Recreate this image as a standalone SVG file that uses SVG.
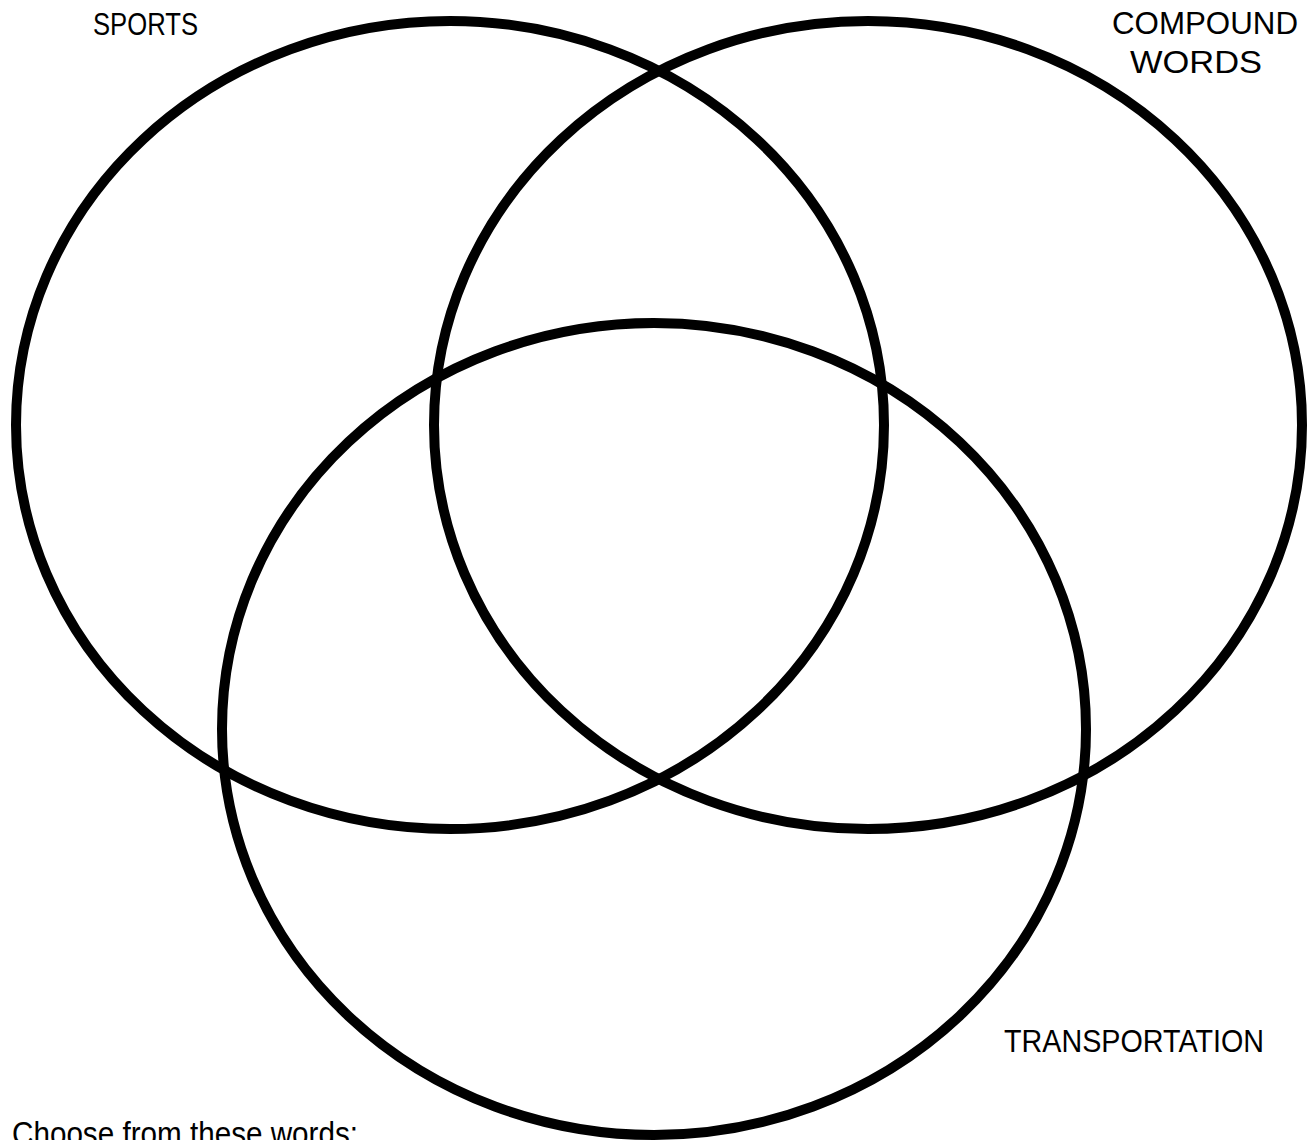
<svg xmlns="http://www.w3.org/2000/svg" width="1311" height="1140" viewBox="0 0 1311 1140">
<style>
.set{fill:none;stroke:#000;stroke-width:10}
.lbl{font-family:"Liberation Sans",Arial,sans-serif;font-size:31px;fill:#000}
</style>
<rect width="1311" height="1140" fill="#fff"/>
<g id="connectors"></g>
<g id="sports">
<ellipse class="set" cx="450" cy="425" rx="434" ry="404"/>
<text class="lbl" x="93" y="35" textLength="105" lengthAdjust="spacingAndGlyphs">SPORTS</text>
</g>
<g id="compound-words">
<ellipse class="set" cx="868" cy="425" rx="434" ry="404"/>
<text class="lbl" x="1112" y="34" textLength="186" lengthAdjust="spacingAndGlyphs">COMPOUND</text>
<text class="lbl" x="1130" y="73" textLength="132" lengthAdjust="spacingAndGlyphs">WORDS</text>
</g>
<g id="transportation">
<ellipse class="set" cx="654" cy="729" rx="432" ry="406"/>
<text class="lbl" x="1004" y="1052" textLength="260" lengthAdjust="spacingAndGlyphs">TRANSPORTATION</text>
</g>
<g id="instructions">
<text class="lbl" x="12" y="1145" style="font-size:33px" textLength="346" lengthAdjust="spacingAndGlyphs">Choose from these words:</text>
</g>
</svg>
